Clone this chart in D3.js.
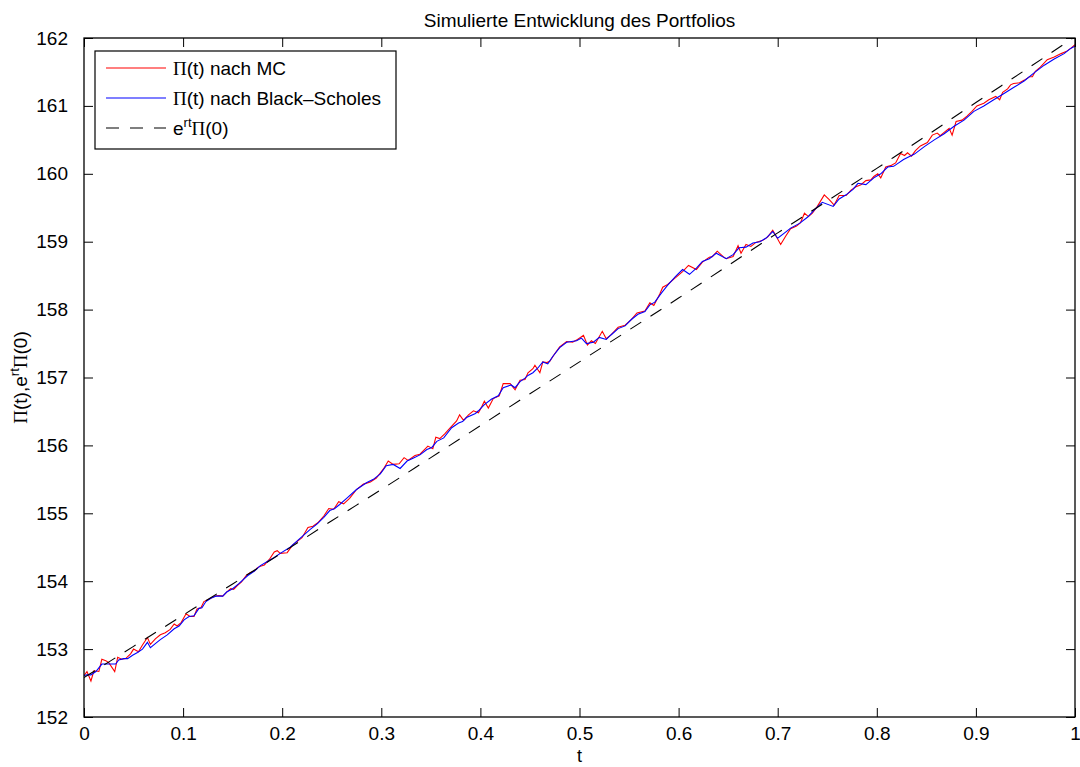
<!DOCTYPE html>
<html>
<head>
<meta charset="utf-8">
<script src="https://cdn.jsdelivr.net/npm/d3@7/dist/d3.min.js"></script>
<style>
  html, body { margin: 0; padding: 0; background: #fff; }
  svg { display: block; }
  text { font-family: "Liberation Sans", Arial, sans-serif; fill: #000; }
  .pi { font-family: "Liberation Serif", "Times New Roman", serif; }
</style>
</head>
<body>
<svg id="chart" width="1080" height="767"></svg>
<script>
// ---------- data ----------
const titleText = "Simulierte Entwicklung des Portfolios";
const xTicks = [0, 0.1, 0.2, 0.3, 0.4, 0.5, 0.6, 0.7, 0.8, 0.9, 1];
const xTickLabels = ["0", "0.1", "0.2", "0.3", "0.4", "0.5", "0.6", "0.7", "0.8", "0.9", "1"];
const yTicks = [152, 153, 154, 155, 156, 157, 158, 159, 160, 161, 162];
const seriesNames = ["Π(t) nach MC", "Π(t) nach Black–Scholes", "e^rt Π(0)"];

// Π(t) nach Black-Scholes (blue)
const tBS = [0, .003, .007, .012, .018, .025, .032, .035, .040, .044, .049, .054, .059, .064, .067, .072, .077, .084, .091, .096,
  .101, .106, .111, .116, .119, .123, .128, .133, .140, .144, .150, .156, .165, .172, .178, .185, .192,
  .198, .208, .218, .228, .235, .242, .248, .253, .258, .265, .275, .285, .292, .299, .305, .312, .319, .326, .332, .339, .346, .351, .356, .363, .371, .378, .382, .386, .395,
  .398, .404, .411, .418, .423, .431, .435, .440, .445, .448, .453, .458, .463, .468, .473, .480, .487, .492, .497, .502, .507, .514, .520, .527, .532, .539, .546, .552, .559, .566, .571, .576, .583, .589,
  .597, .604, .611, .618, .624, .631, .638, .648, .655, .661, .668, .675, .682, .688, .695, .700, .707, .713, .722, .730, .737, .745, .756, .762, .769, .776, .781, .789,
  .797, .804, .811, .817, .827, .838, .848, .858, .868, .878, .888, .898, .908, .918, .928, .938, .949, .959, .969, .979, .989, .996, 1.0];
const vBS = [152.61, 152.62, 152.62, 152.67, 152.78, 152.78, 152.78, 152.84, 152.86, 152.86, 152.91, 152.95, 153.00, 153.10, 153.02, 153.08, 153.14, 153.21, 153.30, 153.34,
  153.43, 153.48, 153.49, 153.60, 153.61, 153.70, 153.75, 153.78, 153.78, 153.84, 153.89, 153.96, 154.08, 154.15, 154.23, 154.29, 154.35,
  154.41, 154.50, 154.63, 154.76, 154.84, 154.94, 155.04, 155.07, 155.13, 155.22, 155.35, 155.45, 155.50, 155.58, 155.70, 155.72, 155.66, 155.77, 155.81, 155.86, 155.94, 155.97, 156.06, 156.11, 156.26, 156.33, 156.35, 156.41, 156.47,
  156.51, 156.60, 156.68, 156.73, 156.85, 156.89, 156.85, 156.94, 156.99, 157.03, 157.07, 157.14, 157.23, 157.20, 157.31, 157.44, 157.52, 157.53, 157.54, 157.58, 157.50, 157.52, 157.59, 157.56, 157.63, 157.72, 157.76, 157.85, 157.93, 157.97, 158.07, 158.11, 158.25, 158.36,
  158.49, 158.59, 158.52, 158.61, 158.71, 158.75, 158.83, 158.75, 158.81, 158.91, 158.92, 158.98, 159.00, 159.05, 159.15, 159.05, 159.13, 159.20, 159.27, 159.36, 159.47, 159.58, 159.52, 159.63, 159.69, 159.77, 159.86, 159.84,
  159.94, 160.00, 160.10, 160.11, 160.21, 160.29, 160.40, 160.50, 160.59, 160.70, 160.79, 160.92, 161.00, 161.09, 161.18, 161.27, 161.37, 161.49, 161.60, 161.69, 161.77, 161.85, 161.88];

// Π(t) nach MC (red)
const tMC = [0, .003, .007, .010, .015, .018, .022, .025, .031, .034, .038, .042, .047, .050, .055, .059, .064, .067, .072, .077, .082, .087, .091, .094, .098,
  .103, .107, .111, .114, .118, .121, .127, .132, .136, .140, .144, .148, .151, .155, .159, .164, .168, .172, .175, .178, .182, .187, .192, .195,
  .198, .205, .211, .220, .226, .231, .236, .242, .247, .252, .257, .262, .268, .275, .282, .289, .295, .302, .307, .312, .318, .323, .327, .334, .339, .347, .352, .355, .359, .364, .369, .376, .379, .383, .388, .393,
  .398, .401, .404, .408, .413, .419, .423, .430, .435, .440, .445, .448, .453, .455, .460, .463, .467, .470, .475, .480, .487, .493, .498, .504, .508, .512, .516, .523, .527, .532, .539, .546, .552, .558, .566, .571, .575, .581, .584, .589, .596,
  .597, .604, .610, .618, .624, .631, .634, .639, .645, .648, .655, .660, .663, .668, .673, .678, .685, .690, .695, .698, .703, .708, .713, .719, .723, .727, .731, .735, .740, .747, .752, .757, .762, .769, .774, .779, .784, .789, .794,
  .797, .801, .804, .809, .814, .819, .824, .828, .831, .835, .839, .844, .851, .856, .861, .864, .868, .873, .876, .880, .886, .891, .896, .901, .908, .913, .920, .924, .927, .932, .935, .938, .944, .949, .954, .957, .960, .965, .972, .979, .986, .991, .996, 1.0];
const vMC = [152.61, 152.67, 152.53, 152.68, 152.67, 152.85, 152.83, 152.80, 152.67, 152.88, 152.85, 152.86, 152.93, 153.00, 152.96, 153.06, 153.17, 153.07, 153.15, 153.21, 153.24, 153.29, 153.37, 153.34, 153.39,
  153.52, 153.48, 153.48, 153.59, 153.61, 153.70, 153.74, 153.78, 153.79, 153.78, 153.84, 153.89, 153.88, 153.94, 153.99, 154.09, 154.13, 154.15, 154.20, 154.22, 154.24, 154.32, 154.43, 154.45,
  154.41, 154.42, 154.54, 154.64, 154.79, 154.81, 154.86, 154.96, 155.07, 155.06, 155.17, 155.14, 155.22, 155.35, 155.43, 155.46, 155.52, 155.65, 155.77, 155.72, 155.73, 155.82, 155.78, 155.85, 155.87, 155.99, 155.95, 156.12, 156.10, 156.17, 156.25, 156.36, 156.45, 156.37, 156.45, 156.51,
  156.48, 156.56, 156.65, 156.55, 156.69, 156.73, 156.91, 156.91, 156.82, 156.96, 156.97, 157.07, 157.13, 157.18, 157.07, 157.23, 157.22, 157.24, 157.35, 157.45, 157.53, 157.52, 157.56, 157.62, 157.48, 157.54, 157.50, 157.68, 157.57, 157.63, 157.74, 157.77, 157.85, 157.95, 157.98, 158.10, 158.06, 158.23, 158.33, 158.37, 158.46,
  158.47, 158.56, 158.65, 158.59, 158.70, 158.77, 158.78, 158.86, 158.78, 158.75, 158.78, 158.94, 158.83, 158.96, 158.93, 158.99, 159.02, 159.07, 159.17, 159.09, 158.96, 159.08, 159.19, 159.23, 159.28, 159.42, 159.37, 159.42, 159.52, 159.69, 159.62, 159.54, 159.68, 159.68, 159.76, 159.81, 159.84, 159.90, 159.91,
  159.96, 160.00, 159.94, 160.10, 160.12, 160.16, 160.30, 160.27, 160.31, 160.26, 160.34, 160.41, 160.46, 160.57, 160.60, 160.56, 160.61, 160.67, 160.57, 160.77, 160.79, 160.85, 160.92, 161.00, 161.04, 161.09, 161.14, 161.09, 161.20, 161.25, 161.31, 161.33, 161.34, 161.38, 161.43, 161.43, 161.51, 161.57, 161.68, 161.72, 161.77, 161.80, 161.85, 161.90];

// e^{rt} Π(0) (black dashed)
const tExp = [0, .05, .1, .15, .2, .25, .3, .35, .4, .45, .5, .55, .6, .65, .7, .75, .8, .85, .9, .95, 1];
const vExp = [152.58, 153.04, 153.50, 153.96, 154.42, 154.89, 155.35, 155.82, 156.29, 156.76, 157.23, 157.70, 158.17, 158.65, 159.13, 159.60, 160.08, 160.56, 161.05, 161.53, 162.02];

// ---------- layout ----------
const svg = d3.select("#chart");
const L = 84, R = 1075, T = 38, B = 717;
const x = d3.scaleLinear().domain([0, 1]).range([L, R]);
const y = d3.scaleLinear().domain([152, 162]).range([B, T]);
const FS = 19;

svg.append("rect").attr("x", L).attr("y", T).attr("width", R - L).attr("height", B - T).attr("fill", "#fff");

svg.append("clipPath").attr("id", "clip").append("rect")
  .attr("x", L).attr("y", T).attr("width", R - L).attr("height", B - T);

const line = d3.line().x(d => x(d[0])).y(d => y(d[1]));
const plot = svg.append("g").attr("clip-path", "url(#clip)");

plot.append("path").datum(tMC.map((t, i) => [t, vMC[i]]))
  .attr("d", line).attr("fill", "none").attr("stroke", "#ff0000").attr("stroke-width", 1.1);
plot.append("path").datum(tBS.map((t, i) => [t, vBS[i]]))
  .attr("d", line).attr("fill", "none").attr("stroke", "#0000ff").attr("stroke-width", 1.1);
plot.append("path").datum(tExp.map((t, i) => [t, vExp[i]]))
  .attr("d", line.curve(d3.curveMonotoneX)).attr("fill", "none").attr("stroke", "#000")
  .attr("stroke-width", 1.1).attr("stroke-dasharray", "13,11");

// axes (MATLAB style box with inward ticks on all sides)
const TL = 9;
const axB = d3.axisBottom(x).tickValues(xTicks).tickFormat((d, i) => xTickLabels[i])
  .tickSizeInner(-TL).tickSizeOuter(0).tickPadding(10);
const axT = d3.axisTop(x).tickValues(xTicks).tickFormat("").tickSizeInner(-TL).tickSizeOuter(0);
const axL = d3.axisLeft(y).tickValues(yTicks).tickFormat(d3.format("d"))
  .tickSizeInner(-TL).tickSizeOuter(0).tickPadding(16);
const axR = d3.axisRight(y).tickValues(yTicks).tickFormat("").tickSizeInner(-TL).tickSizeOuter(0);

function style(g) {
  g.select(".domain").remove();
  g.selectAll("line").attr("stroke", "#000").attr("stroke-width", 1);
  g.selectAll("text").attr("font-size", FS).attr("font-family", "Liberation Sans, Arial, sans-serif").attr("fill", "#000");
}
svg.append("g").attr("transform", `translate(0,${B})`).call(axB).call(style);
svg.append("g").attr("transform", `translate(0,${T})`).call(axT).call(style);
svg.append("g").attr("transform", `translate(${L},0)`).call(axL).call(style);
svg.append("g").attr("transform", `translate(${R},0)`).call(axR).call(style);

svg.append("rect").attr("x", L).attr("y", T).attr("width", R - L).attr("height", B - T)
  .attr("fill", "none").attr("stroke", "#000").attr("stroke-width", 1.3);

svg.append("text").attr("x", (L + R) / 2).attr("y", 27).attr("text-anchor", "middle")
  .attr("font-size", FS).text(titleText);

svg.append("text").attr("x", (L + R) / 2).attr("y", 762).attr("text-anchor", "middle")
  .attr("font-size", 18).text("t");

const yl = svg.append("text").attr("transform", `translate(27,${(T + B) / 2}) rotate(-90)`)
  .attr("text-anchor", "middle").attr("font-size", FS);
yl.append("tspan").attr("class", "pi").text("Π");
yl.append("tspan").text("(t),e");
yl.append("tspan").attr("font-size", 13).attr("dy", -8).text("rt");
yl.append("tspan").attr("class", "pi").attr("dy", 8).text("Π");
yl.append("tspan").text("(0)");

// legend
const lg = svg.append("g");
lg.append("rect").attr("x", 95).attr("y", 51).attr("width", 301).attr("height", 98)
  .attr("fill", "#fff").attr("stroke", "#000").attr("stroke-width", 1.2);
const legendRows = [
  { y: 68, color: "#ff0000", dash: null },
  { y: 98, color: "#0000ff", dash: null },
  { y: 128, color: "#000", dash: "13,11" }
];
legendRows.forEach((r, i) => {
  lg.append("line").attr("x1", 106).attr("x2", 166).attr("y1", r.y).attr("y2", r.y)
    .attr("stroke", r.color).attr("stroke-width", 1.1).attr("stroke-dasharray", r.dash);
  const tx = lg.append("text").attr("x", 173).attr("y", r.y + 7).attr("font-size", FS);
  if (i < 2) {
    tx.append("tspan").attr("class", "pi").text("Π");
    tx.append("tspan").text(seriesNames[i].slice(1));
  } else {
    tx.append("tspan").text("e");
    tx.append("tspan").attr("font-size", 13).attr("dy", -8).text("rt");
    tx.append("tspan").attr("class", "pi").attr("dy", 8).text("Π");
    tx.append("tspan").text("(0)");
  }
});
</script>
</body>
</html>
